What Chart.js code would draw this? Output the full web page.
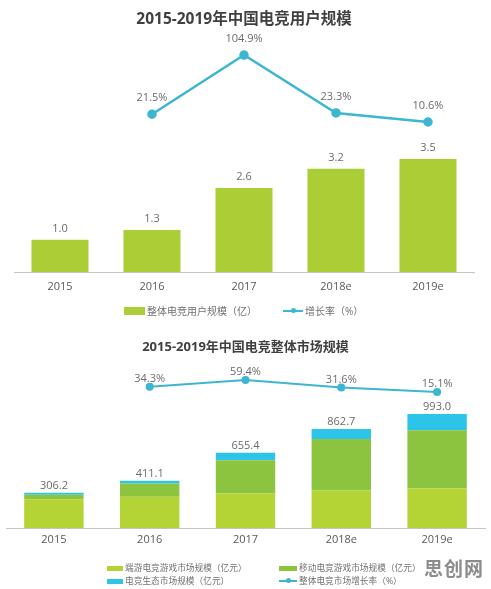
<!DOCTYPE html>
<html>
<head>
<meta charset="utf-8">
<script src="https://cdn.jsdelivr.net/npm/chart.js@4.4.0/dist/chart.umd.min.js"></script>
<style>
  body { margin:0; background:#fff; width:491px; height:589px; overflow:hidden; position:relative;
         font-family:"Open Sans","Noto Sans CJK SC",sans-serif; }
  .wrap { position:absolute; left:0; width:491px; }
  #w1 { top:0; height:310px; }
  #w2 { top:330px; height:225px; }
  .sw { position:absolute; }
  .ln { position:absolute; height:2px; background:#3db6d1; }
  .dot { position:absolute; width:5px; height:5px; border-radius:50%; background:#3db6d1; }
  .tx { position:absolute; color:#707070; white-space:nowrap; line-height:14px; }
  .t1 { font-size:10px; }
  .t2 { font-size:8.7px; }
  #mark { position:absolute; left:424px; top:554px; font-size:19px; font-weight:bold; color:#8c8c8c;
          font-family:"Noto Sans CJK SC",sans-serif; letter-spacing:1px; }
</style>
</head>
<body>
<div class="wrap" id="w1"><canvas id="userChart"></canvas></div>
<div class="wrap" id="w2"><canvas id="marketChart"></canvas></div>

<!-- legend: user chart -->
<div class="sw" style="left:124px;top:307px;width:21px;height:8px;background:#abcd35"></div>
<div class="tx t1" style="left:147px;top:304px">整体电竞用户规模（亿）</div>
<div class="ln" style="left:283px;top:310px;width:20px"></div>
<div class="dot" style="left:291px;top:308px"></div>
<div class="tx t1" style="left:305px;top:304px">增长率（%）</div>

<!-- legend: market chart -->
<div class="sw" style="left:107px;top:566px;width:16px;height:5px;background:#b4d334"></div>
<div class="tx t2" style="left:125px;top:561px">端游电竞游戏市场规模（亿元）</div>
<div class="sw" style="left:279px;top:566px;width:18px;height:5px;background:#8cc43f"></div>
<div class="tx t2" style="left:299px;top:561px">移动电竞游戏市场规模（亿元）</div>
<div class="sw" style="left:107px;top:579px;width:16px;height:5px;background:#2cc5e9"></div>
<div class="tx t2" style="left:125px;top:574px">电竞生态市场规模（亿元）</div>
<div class="ln" style="left:279px;top:580px;width:18px"></div>
<div class="dot" style="left:286px;top:578px"></div>
<div class="tx t2" style="left:299px;top:574px">整体电竞市场增长率（%）</div>

<div id="mark">思创网</div>

<script>
// ── DATA ──
const years = ['2015', '2016', '2017', '2018e', '2019e'];

const userScale  = [1.0, 1.3, 2.6, 3.2, 3.5];          // 亿
const userGrowth = [null, 21.5, 104.9, 23.3, 10.6];    // %

const pcEsports     = [250, 272, 301, 327, 345];       // 亿元
const mobileEsports = [40, 116, 290, 448, 508];
const ecoScale      = [16.2, 23.1, 64.4, 87.7, 140];
const marketTotal   = [306.2, 411.1, 655.4, 862.7, 993.0];
const marketGrowth  = [null, 34.3, 59.4, 31.6, 15.1];  // %

// ── COLOURS ──
const BAR1   = '#abcd35';
const LIGHT  = '#b4d334';
const MID    = '#8cc43f';
const BLUE   = '#2cc5e9';
const LINE   = '#3db6d1';
const FONT   = '"Open Sans","Noto Sans CJK SC",sans-serif';

Chart.defaults.font.family = FONT;
Chart.defaults.animation = false;

// ── value labels drawn above bars / points ──
const valueLabels = {
  id: 'valueLabels',
  afterDatasetsDraw(chart, args, opts) {
    const ctx = chart.ctx;
    ctx.save();
    ctx.font = '11px ' + FONT;
    ctx.fillStyle = '#6b6b6b';
    ctx.textAlign = 'center';
    ctx.textBaseline = 'middle';
    opts.items.forEach(it => {
      const meta = chart.getDatasetMeta(it.dataset);
      meta.data.forEach((el, i) => {
        const v = it.values[i];
        if (v == null) return;
        ctx.fillText(v.toFixed(1) + (it.suffix || ''), el.x, el.y - it.gap);
      });
    });
    ctx.restore();
  }
};

const xAxis = (pad) => ({
  grid: { display:false, drawTicks:false },
  border: { display:true, color:'#c4c4c4', width:1 },
  ticks: { color:'#595959', font:{ size:11 }, padding:pad }
});

// ── CHART 1: users ──
new Chart(document.getElementById('userChart'), {
  data: {
    labels: years,
    datasets: [
      { type:'line', data:userGrowth, yAxisID:'y2', borderColor:LINE, backgroundColor:LINE,
        borderWidth:2.5, pointRadius:3.5, pointBackgroundColor:LINE, order:0 },
      { type:'bar', data:userScale, yAxisID:'y', backgroundColor:BAR1,
        categoryPercentage:1, barPercentage:0.62, order:1 }
    ]
  },
  options: {
    responsive:true, maintainAspectRatio:false,
    layout: { padding:{ left:14, right:17, bottom:8.8 } },
    plugins: {
      legend: { display:false },
      tooltip: { enabled:false },
      title: { display:true, text:'2015-2019年中国电竞用户规模', color:'#404040',
               font:{ size:15.5, weight:'bold' }, padding:{ top:10.7, bottom:6 } },
      valueLabels: { items:[
        { dataset:1, values:userScale, gap:11 },
        { dataset:0, values:userGrowth, gap:16, suffix:'%' }
      ] }
    },
    scales: {
      x: xAxis(8),
      y:  { display:false, min:0, max:7.33 },
      y2: { display:false, min:-200.7, max:132.7 }
    }
  },
  plugins: [valueLabels]
});

// ── CHART 2: market ──
new Chart(document.getElementById('marketChart'), {
  data: {
    labels: years,
    datasets: [
      { type:'line', data:marketGrowth, yAxisID:'y2', borderColor:LINE, backgroundColor:LINE,
        borderWidth:2, pointRadius:3, pointBackgroundColor:LINE, order:0 },
      { type:'bar', data:pcEsports, yAxisID:'y', backgroundColor:LIGHT, stack:'m',
        categoryPercentage:1, barPercentage:0.62, order:1 },
      { type:'bar', data:mobileEsports, yAxisID:'y', backgroundColor:MID, stack:'m',
        categoryPercentage:1, barPercentage:0.62, order:1 },
      { type:'bar', data:ecoScale, yAxisID:'y', backgroundColor:BLUE, stack:'m',
        categoryPercentage:1, barPercentage:0.62, order:1 }
    ]
  },
  options: {
    responsive:true, maintainAspectRatio:false,
    layout: { padding:{ left:0, right:0, bottom:3.8 } },
    plugins: {
      legend: { display:false },
      tooltip: { enabled:false },
      title: { display:true, text:'2015-2019年中国电竞整体市场规模', color:'#404040',
               font:{ size:13, weight:'bold' }, padding:{ top:9.2, bottom:5.6 } },
      valueLabels: { items:[
        { dataset:3, values:marketTotal, gap:7 },
        { dataset:0, values:marketGrowth, gap:8, suffix:'%' }
      ] }
    },
    scales: {
      x: { ...xAxis(5), stacked:true },
      y:  { display:false, stacked:true, min:0, max:1461 },
      y2: { display:false, stacked:false, min:-488.9, max:131.9 }
    }
  },
  plugins: [valueLabels]
});
</script>
</body>
</html>
